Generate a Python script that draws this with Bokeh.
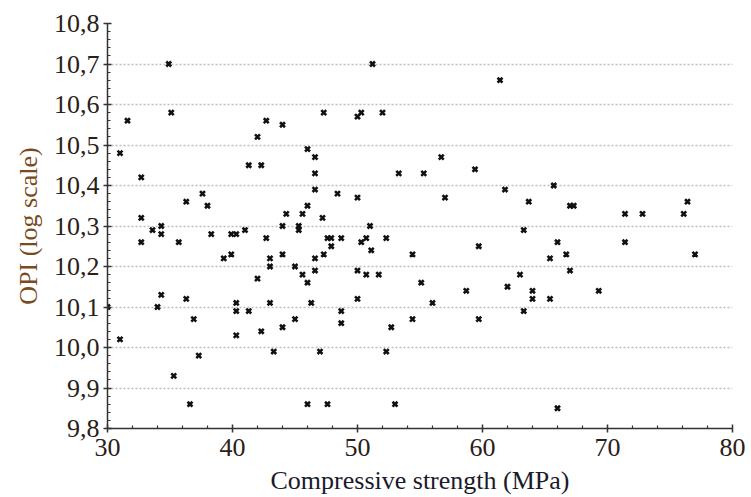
from bokeh.plotting import figure
from bokeh.models import Range1d, FixedTicker, CustomJSTickFormatter
from bokeh.embed import file_html
from bokeh.resources import INLINE

# Compressive strength (MPa)
strength = [
    31.0, 31.6, 34.9, 35.1, 32.7, 32.7, 33.6, 34.3, 34.3, 36.3,
    37.6, 38.0, 41.3, 42.0, 42.3, 42.7, 44.0, 46.0, 46.6, 46.6,
    46.6, 46.0, 45.6, 44.3, 44.0, 45.3, 45.3, 41.0, 51.2, 61.4,
    47.3, 50.0, 50.3, 52.0, 53.3, 55.3, 56.7, 59.4, 48.4, 50.0,
    57.0, 61.8, 47.2, 51.0, 63.3, 63.7, 65.7, 67.0, 67.3, 71.4,
    72.8, 76.1, 76.4, 32.7, 35.7, 38.3, 39.9, 40.3, 42.7, 39.3,
    39.9, 43.0, 43.0, 44.0, 45.0, 45.6, 46.0, 46.6, 46.6, 42.0,
    34.3, 34.0, 36.3, 36.9, 37.3, 35.3, 36.6, 31.0, 30.0, 40.3,
    40.3, 41.3, 40.3, 42.3, 43.0, 44.0, 43.3, 45.0, 46.3, 46.0,
    47.6, 47.9, 48.7, 47.9, 47.3, 50.7, 50.3, 51.1, 52.3, 54.4,
    59.7, 50.0, 50.7, 51.7, 55.1, 58.7, 62.0, 63.0, 50.0, 56.0,
    48.7, 48.7, 52.7, 54.4, 59.7, 63.3, 47.0, 52.3, 47.6, 53.0,
    66.0, 71.4, 65.4, 66.7, 77.0, 67.0, 64.0, 64.0, 65.4, 69.3,
    66.0,
]
# OPI (log scale)
opi = [
    10.48, 10.56, 10.70, 10.58, 10.42, 10.32, 10.29, 10.30, 10.28, 10.36,
    10.38, 10.35, 10.45, 10.52, 10.45, 10.56, 10.55, 10.49, 10.47, 10.43,
    10.39, 10.35, 10.33, 10.33, 10.30, 10.30, 10.29, 10.29, 10.70, 10.66,
    10.58, 10.57, 10.58, 10.58, 10.43, 10.43, 10.47, 10.44, 10.38, 10.37,
    10.37, 10.39, 10.32, 10.30, 10.29, 10.36, 10.40, 10.35, 10.35, 10.33,
    10.33, 10.33, 10.36, 10.26, 10.26, 10.28, 10.28, 10.28, 10.27, 10.22,
    10.23, 10.22, 10.20, 10.23, 10.20, 10.18, 10.16, 10.22, 10.19, 10.17,
    10.13, 10.10, 10.12, 10.07, 9.98, 9.93, 9.86, 10.02, 10.10, 10.11,
    10.09, 10.09, 10.03, 10.04, 10.11, 10.05, 9.99, 10.07, 10.11, 9.86,
    10.27, 10.27, 10.27, 10.25, 10.23, 10.27, 10.26, 10.24, 10.27, 10.23,
    10.25, 10.19, 10.18, 10.18, 10.16, 10.14, 10.15, 10.18, 10.12, 10.11,
    10.09, 10.06, 10.05, 10.07, 10.07, 10.09, 9.99, 9.99, 9.86, 9.86,
    10.26, 10.26, 10.22, 10.23, 10.23, 10.19, 10.14, 10.12, 10.12, 10.14,
    9.85,
]

x_ticks = [30, 40, 50, 60, 70, 80]
x_minor = [32, 34, 36, 38, 42, 44, 46, 48, 52, 54, 56, 58, 62, 64, 66, 68, 72, 74, 76, 78]
y_ticks = [9.8, 9.9, 10.0, 10.1, 10.2, 10.3, 10.4, 10.5, 10.6, 10.7, 10.8]
y_minor = [round(9.8 + 0.02 * i, 2) for i in range(51) if i % 5 != 0]

x_label = "Compressive strength (MPa)"
y_label = "OPI (log scale)"

FONT = "Liberation Serif"

p = figure(
    width=750, height=497,
    x_range=Range1d(30, 80), y_range=Range1d(9.8, 10.8),
    output_backend="svg", toolbar_location=None,
    min_border_left=107, min_border_right=18, min_border_top=23, min_border_bottom=69,
)
p.outline_line_color = None
p.background_fill_color = "white"
p.border_fill_color = "white"

p.scatter(strength, opi, marker="x", size=7, line_width=2.6, color="#111111")

p.xaxis.ticker = FixedTicker(ticks=x_ticks, minor_ticks=x_minor)
p.yaxis.ticker = FixedTicker(ticks=y_ticks, minor_ticks=y_minor)
p.yaxis.formatter = CustomJSTickFormatter(code="return tick.toFixed(1).replace('.', ',');")

for ax in (p.xaxis[0], p.yaxis[0]):
    ax.axis_line_color = "#333333"
    ax.axis_line_width = 1.5
    ax.major_tick_line_color = "#333333"
    ax.major_tick_line_width = 1.5
    ax.minor_tick_line_color = "#333333"
    ax.minor_tick_line_width = 1.2
    ax.major_tick_in = 4
    ax.major_tick_out = 4
    ax.minor_tick_in = 3
    ax.minor_tick_out = 0
    ax.major_label_text_font = FONT
    ax.major_label_text_font_size = "26px"
    ax.major_label_text_color = "#2a2018"
    ax.axis_label_text_font = FONT
    ax.axis_label_text_font_size = "26px"
    ax.axis_label_text_font_style = "normal"

p.xaxis.major_label_standoff = 6
p.yaxis.major_label_standoff = 4
p.xaxis.axis_label = x_label
p.xaxis.axis_label_text_color = "#1a1a2a"
p.xaxis.axis_label_standoff = 7
p.yaxis.axis_label = y_label
p.yaxis.axis_label_text_color = "#7a4b20"
p.yaxis.axis_label_standoff = 8

p.xgrid.grid_line_color = None
p.ygrid.grid_line_color = "#bdbdbd"
p.ygrid.grid_line_dash = "2 2"
p.ygrid.grid_line_width = 1.3

open("out.html", "w").write(file_html(p, INLINE))
